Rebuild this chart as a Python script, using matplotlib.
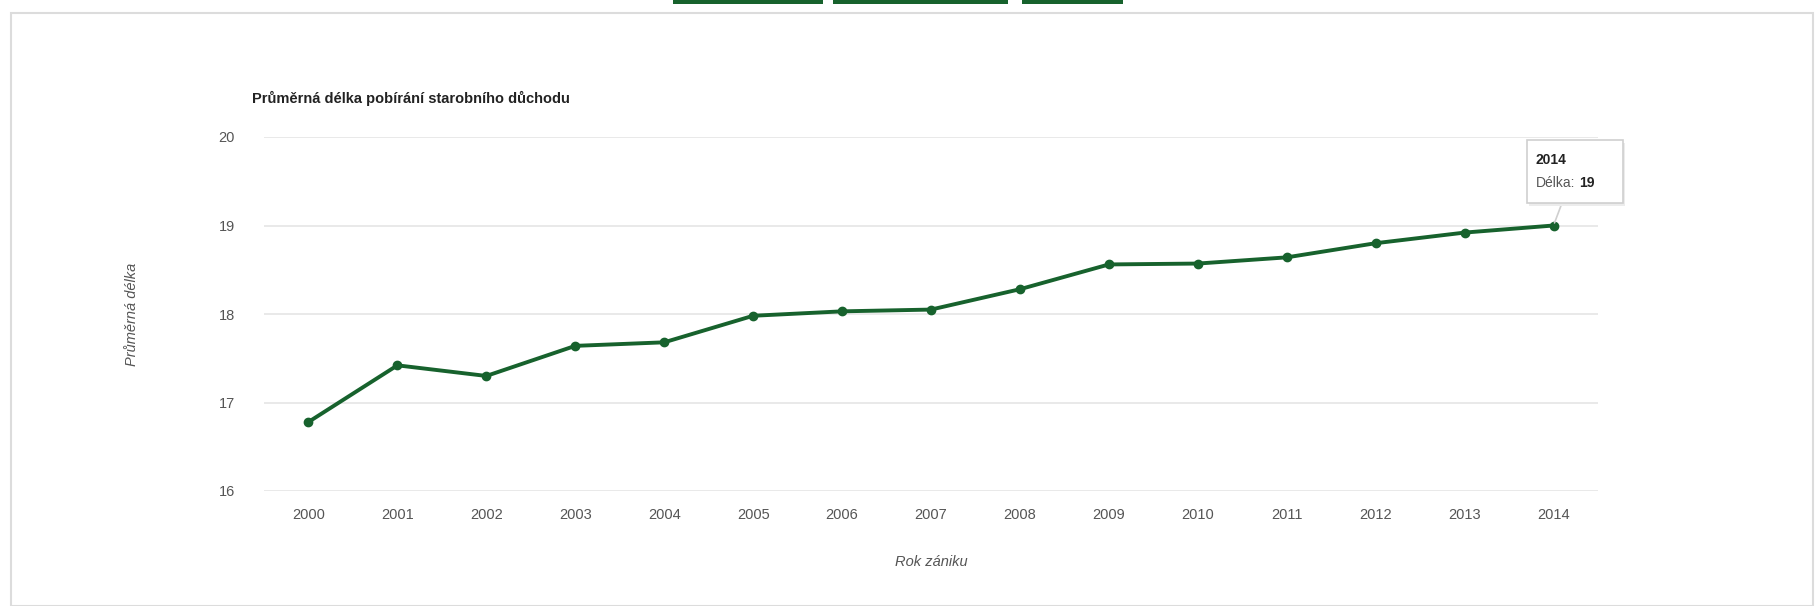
import matplotlib
matplotlib.use("Agg")
import matplotlib.pyplot as plt
from matplotlib.patches import Rectangle, FancyBboxPatch

plt.rcParams["font.family"] = ["Liberation Sans", "DejaVu Sans"]

years = ["2000", "2001", "2002", "2003", "2004", "2005", "2006", "2007",
         "2008", "2009", "2010", "2011", "2012", "2013", "2014"]
delka = [16.78, 17.42, 17.30, 17.64, 17.68, 17.98, 18.03, 18.05,
         18.28, 18.56, 18.57, 18.64, 18.80, 18.92, 19.00]
y_ticks = [16, 17, 18, 19, 20]

GREEN = "#17622d"
W, H = 1816, 606

fig = plt.figure(figsize=(W / 100, H / 100), dpi=100)
fig.patch.set_facecolor("white")

# page frame + top buttons
fig.add_artist(Rectangle((11 / W, 0), (1813 - 11) / W, 1 - 13 / H, transform=fig.transFigure,
                         fill=False, ec="#dcdcdc", lw=1.5))
for x0, x1 in [(673, 823), (833, 1008), (1022, 1123)]:
    fig.add_artist(Rectangle((x0 / W, 1 - 4 / H), (x1 - x0) / W, 4 / H,
                             transform=fig.transFigure, fc=GREEN, ec="none"))

ax = fig.add_axes([264 / W, 1 - 491 / H, (1598 - 264) / W, (491 - 137) / H])
x = list(range(len(years)))
ax.plot(x, delka, color=GREEN, lw=2.8, marker="o", ms=6, zorder=3, clip_on=False)

ax.set_xlim(-0.5, len(years) - 0.5)
ax.set_ylim(16, 20)
ax.set_yticks(y_ticks)
ax.set_xticks(x)
ax.set_xticklabels(years)
ax.grid(axis="y", color="#e5e5e5", lw=1.2)
ax.set_axisbelow(True)
for s in ax.spines.values():
    s.set_visible(False)
ax.tick_params(length=0, labelsize=10.5, labelcolor="#555555")
ax.tick_params(axis="y", pad=21)
ax.tick_params(axis="x", pad=12)

ax.set_xlabel("Rok zániku", fontsize=10.5, style="italic", color="#555555", labelpad=24)
ax.set_ylabel("Průměrná délka", fontsize=10.5, style="italic", color="#555555", labelpad=57)

fig.text(252 / W, 1 - 98 / H, "Průměrná délka pobírání starobního důchodu",
         fontsize=10.5, fontweight="bold", color="#222222", va="center")

# tooltip for the last point
shadow = FancyBboxPatch((1529 / W, 1 - 206 / H), 96 / W, 63 / H, transform=fig.transFigure,
                        boxstyle="square,pad=0", fc="#ececec", ec="none", zorder=4)
fig.add_artist(shadow)
tip = FancyBboxPatch((1527 / W, 1 - 203 / H), 96 / W, 63 / H, transform=fig.transFigure,
                     boxstyle="square,pad=0", fc="white", ec="#cfcfcf", lw=1.2, zorder=5)
fig.add_artist(tip)
ax.annotate("", xy=(x[-1], delka[-1]), xycoords="data",
            xytext=(1562 / W, 1 - 203 / H), textcoords="figure fraction",
            arrowprops=dict(arrowstyle="-", color="#cfcfcf", lw=1.2))
fig.text(1536 / W, 1 - 160 / H, years[-1], fontsize=10, fontweight="bold",
         color="#222222", va="center", zorder=6)
fig.text(1536 / W, 1 - 183 / H, "Délka:", fontsize=10, color="#555555", va="center", zorder=6)
fig.text(1579 / W, 1 - 183 / H, f"{delka[-1]:g}", fontsize=10, fontweight="bold",
         color="#222222", va="center", zorder=6)

fig.savefig("out.png", dpi=100)
